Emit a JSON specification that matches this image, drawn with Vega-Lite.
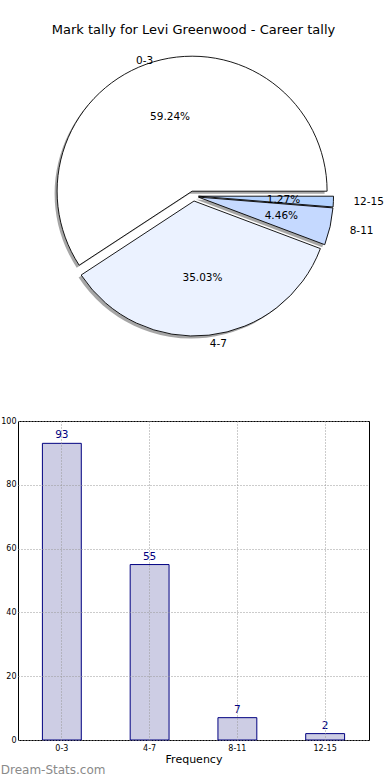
{
  "$schema": "https://vega.github.io/schema/vega-lite/v6.json",
  "padding": {"left": 0, "top": 24, "right": 0, "bottom": 0},
  "bounds": "flush",
  "spacing": 75,
  "config": {"font": "DejaVu Sans", "view": {"stroke": null}},
  "datasets": {
    "tally": [
      {"range": "0-3", "count": 93, "order": 1, "pct": "59.24%"},
      {"range": "4-7", "count": 55, "order": 2, "pct": "35.03%"},
      {"range": "8-11", "count": 7, "order": 3, "pct": "4.46%"},
      {"range": "12-15", "count": 2, "order": 4, "pct": "1.27%"}
    ]
  },
  "vconcat": [
    {
      "width": 351,
      "height": 300,
      "title": {"text": "Mark tally for Levi Greenwood - Career tally", "fontSize": 13, "fontWeight": "normal", "color": "black", "offset": 9, "anchor": "middle", "frame": "group"},
      "data": {"name": "tally"},
      "transform": [{"stack": "count", "groupby": [], "sort": [{"field": "order", "order": "ascending"}], "as": ["t0", "t1"]}],
      "layer": [
        {"transform": [{"filter": "datum.range == '0-3'"}], "mark": {"type": "arc", "outerRadius": 135, "fill": "#4d4d4d", "opacity": 0.5, "xOffset": -3.9, "yOffset": -2.3},
         "encoding": {"theta": {"field": "t0", "type": "quantitative", "scale": {"domain": [0, 157], "range": [1.5708, -4.7124]}}, "theta2": {"field": "t1"}}},
        {"transform": [{"filter": "datum.range == '4-7'"}], "mark": {"type": "arc", "outerRadius": 135, "fill": "#4d4d4d", "opacity": 0.5, "xOffset": -1.95, "yOffset": 7.5},
         "encoding": {"theta": {"field": "t0", "type": "quantitative", "scale": {"domain": [0, 157], "range": [1.5708, -4.7124]}}, "theta2": {"field": "t1"}}},
        {"transform": [{"filter": "datum.range == '8-11'"}], "mark": {"type": "arc", "outerRadius": 135, "fill": "#4d4d4d", "opacity": 0.5, "xOffset": 2.4, "yOffset": 3.6},
         "encoding": {"theta": {"field": "t0", "type": "quantitative", "scale": {"domain": [0, 157], "range": [1.5708, -4.7124]}}, "theta2": {"field": "t1"}}},
        {"transform": [{"filter": "datum.range == '12-15'"}], "mark": {"type": "arc", "outerRadius": 135, "fill": "#4d4d4d", "opacity": 0.5, "xOffset": 2.5, "yOffset": 2.7},
         "encoding": {"theta": {"field": "t0", "type": "quantitative", "scale": {"domain": [0, 157], "range": [1.5708, -4.7124]}}, "theta2": {"field": "t1"}}},
        {"transform": [{"filter": "datum.range == '0-3'"}], "mark": {"type": "arc", "outerRadius": 135, "fill": "#ffffff", "stroke": "black", "strokeWidth": 0.9, "xOffset": -1.4, "yOffset": -4.8},
         "encoding": {"theta": {"field": "t0", "type": "quantitative", "scale": {"domain": [0, 157], "range": [1.5708, -4.7124]}}, "theta2": {"field": "t1"}}},
        {"transform": [{"filter": "datum.range == '4-7'"}], "mark": {"type": "arc", "outerRadius": 135, "fill": "#ebf2ff", "stroke": "black", "strokeWidth": 0.9, "xOffset": 0.55, "yOffset": 5.0},
         "encoding": {"theta": {"field": "t0", "type": "quantitative", "scale": {"domain": [0, 157], "range": [1.5708, -4.7124]}}, "theta2": {"field": "t1"}}},
        {"transform": [{"filter": "datum.range == '8-11'"}], "mark": {"type": "arc", "outerRadius": 135, "fill": "#c5d9ff", "stroke": "black", "strokeWidth": 0.9, "xOffset": 4.9, "yOffset": 1.1},
         "encoding": {"theta": {"field": "t0", "type": "quantitative", "scale": {"domain": [0, 157], "range": [1.5708, -4.7124]}}, "theta2": {"field": "t1"}}},
        {"transform": [{"filter": "datum.range == '12-15'"}], "mark": {"type": "arc", "outerRadius": 135, "fill": "#b3d2ff", "stroke": "black", "strokeWidth": 0.9, "xOffset": 5.0, "yOffset": 0.2},
         "encoding": {"theta": {"field": "t0", "type": "quantitative", "scale": {"domain": [0, 157], "range": [1.5708, -4.7124]}}, "theta2": {"field": "t1"}}},
        {"mark": {"type": "text", "radius": {"expr": "datum.range == '0-3' || datum.range == '4-7' ? 77 : 85"}, "fontSize": 10.5, "color": "black", "baseline": "middle", "align": "center",
                  "xOffset": {"expr": "datum.range == '0-3' ? -1.4 : datum.range == '4-7' ? 0.55 : datum.range == '8-11' ? 4.9 : 5.0"},
                  "yOffset": {"expr": "datum.range == '0-3' ? -4.8 : datum.range == '4-7' ? 5.0 : datum.range == '8-11' ? 1.1 : 0.2"}},
         "encoding": {"theta": {"field": "count", "type": "quantitative", "stack": true, "scale": {"domain": [0, 157], "range": [1.5708, -4.7124]}}, "order": {"field": "order"}, "detail": {"field": "range"}, "text": {"field": "pct"}}},
        {"mark": {"type": "text", "radius": {"expr": "datum.range == '0-3' ? 136 : datum.range == '4-7' ? 144 : 155"}, "fontSize": 10.5, "color": "black", "baseline": "middle", "align": {"expr": "datum.range == '0-3' ? 'right' : 'left'"},
                  "xOffset": {"expr": "datum.range == '0-3' ? -1.4 : datum.range == '4-7' ? 0.55 : datum.range == '8-11' ? 4.9 : 5.0"},
                  "yOffset": {"expr": "datum.range == '0-3' ? -4.8 : datum.range == '4-7' ? 5.0 : datum.range == '8-11' ? 1.1 : 0.2"}},
         "encoding": {"theta": {"field": "count", "type": "quantitative", "stack": true, "scale": {"domain": [0, 157], "range": [1.5708, -4.7124]}}, "order": {"field": "order"}, "detail": {"field": "range"}, "text": {"field": "range"}}}
      ]
    },
    {
      "width": 351,
      "height": 319,
      "view": {"stroke": "black", "strokeWidth": 1},
      "title": {"text": "Dream-Stats.com", "orient": "bottom", "anchor": "start", "frame": "bounds", "fontSize": 12, "fontWeight": "normal", "color": "#8a8a8a", "offset": 1},
      "data": {"name": "tally"},
      "encoding": {
        "x": {"field": "range", "type": "nominal", "sort": {"field": "order"}, "scale": {"paddingInner": 0.557, "paddingOuter": 0.278},
              "axis": {"title": "Frequency", "labelAngle": 0, "labelFontSize": 8, "labelColor": "black", "titleFontSize": 11, "titleFontWeight": "normal", "titleColor": "black", "grid": true, "gridDash": [1, 2], "gridColor": "#999999", "ticks": false, "domain": false, "labelPadding": 4, "titlePadding": 1, "zindex": 1}},
        "y": {"field": "count", "type": "quantitative", "scale": {"domain": [0, 100]},
              "axis": {"title": null, "values": [0, 20, 40, 60, 80, 100], "labelFontSize": 8, "labelColor": "black", "grid": true, "gridDash": [1, 2], "gridColor": "#999999", "ticks": false, "domain": false, "labelPadding": 2, "zindex": 1}}
      },
      "layer": [
        {"mark": {"type": "bar", "fill": "#cdcde4", "stroke": "#000080", "strokeWidth": 1}},
        {"mark": {"type": "text", "dy": -8, "fontSize": 10.5, "color": "#000080", "baseline": "middle"}, "encoding": {"text": {"field": "count"}}}
      ]
    }
  ]
}
